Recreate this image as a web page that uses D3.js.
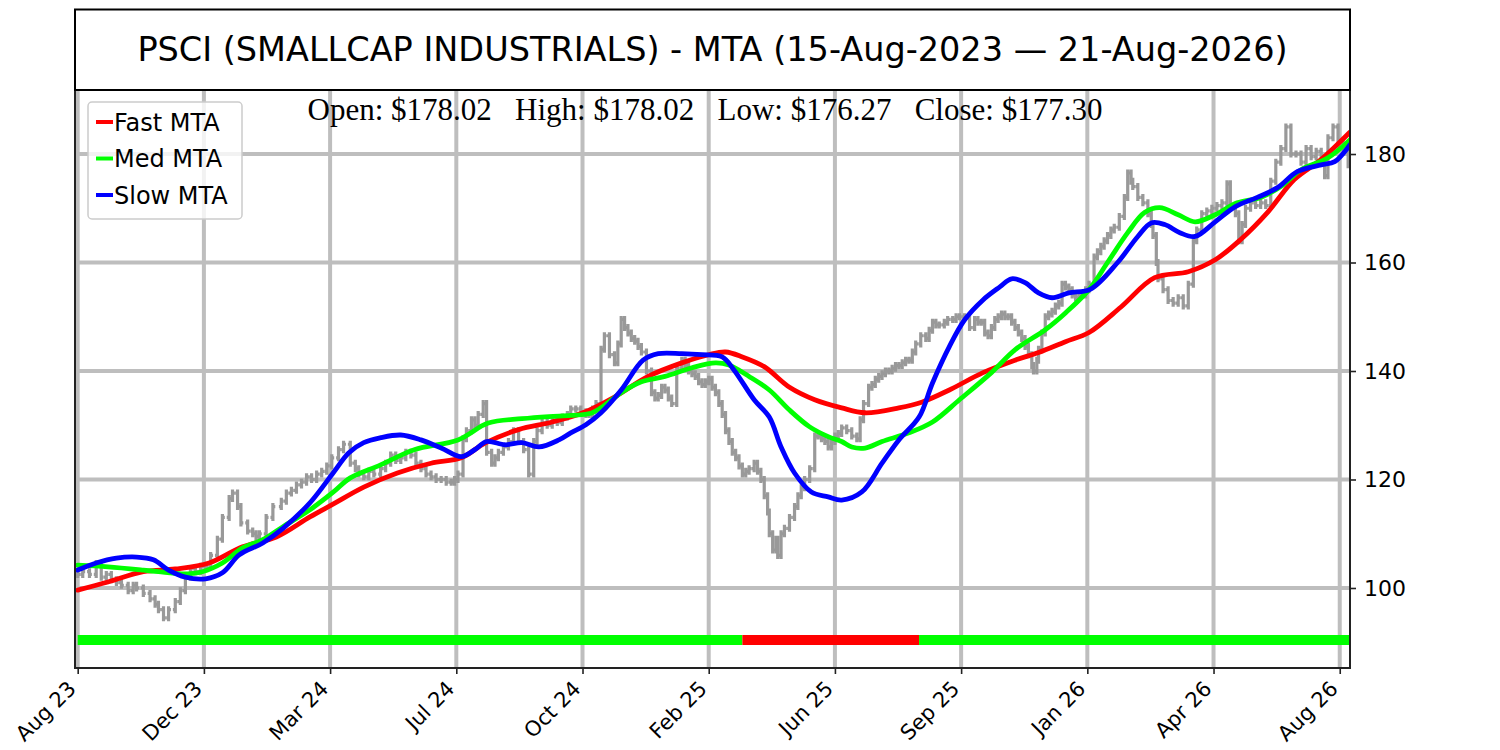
<!DOCTYPE html>
<html>
<head>
<meta charset="utf-8">
<script src="https://cdn.jsdelivr.net/npm/d3@7"></script>
<style>
  body { margin: 0; background: #fff; }
  svg { display: block; }
</style>
</head>
<body>
<div id="chart"></div>
<script>
const WIDTH = 1500;
const HEIGHT = 750;
const PLOT = { left: 75, right: 1350, top: 90, bottom: 668 };

const TITLE = "PSCI (SMALLCAP INDUSTRIALS) - MTA (15-Aug-2023 \u2014 21-Aug-2026)";
const OHLC_TEXT = "Open: $178.02   High: $178.02   Low: $176.27   Close: $177.30";

// x axis runs on trading-day index, a label every 75 bars
const tickIdx = [0, 75, 150, 225, 300, 375, 450, 525, 600, 675, 750];
const tickLabels = ["Aug 23", "Dec 23", "Mar 24", "Jul 24", "Oct 24", "Feb 25",
                    "Jun 25", "Sep 25", "Jan 26", "Apr 26", "Aug 26"];
const yTicks = [100, 120, 140, 160, 180];

// price bars
const priceIdx = [
  0, 3, 7, 11, 14, 17, 20, 23, 26, 30,
  33, 35, 39, 43, 46, 48, 51, 54, 58, 61,
  64, 67, 70, 73, 76, 79, 83, 86, 90, 92,
  95, 97, 101, 104, 106, 108, 112, 116, 121, 124,
  127, 130, 133, 136, 139, 142, 145, 148, 151, 155,
  158, 162, 165, 167, 170, 173, 176, 180, 183, 186,
  189, 192, 195, 198, 201, 204, 207, 210, 213, 216,
  219, 222, 224, 226, 229, 231, 234, 236, 238, 241,
  243, 246, 248, 250, 253, 256, 259, 262, 265, 268,
  271, 273, 276, 279, 282, 285, 288, 291, 293, 296,
  299, 302, 304, 306, 308, 311, 313, 316, 319, 321,
  323, 325, 327, 329, 331, 333, 335, 338, 341, 343,
  345, 347, 349, 351, 353, 356, 359, 361, 363, 365,
  367, 369, 371, 373, 375, 377, 379, 381, 383, 385,
  387, 389, 391, 393, 395, 397, 399, 402, 404, 406,
  408, 410, 411, 413, 415, 416, 418, 420, 423, 426,
  428, 430, 432, 435, 438, 440, 442, 444, 446, 448,
  450, 452, 454, 457, 460, 463, 465, 467, 470, 472,
  474, 476, 478, 480, 482, 484, 486, 488, 490, 492,
  494, 496, 498, 501, 504, 506, 508, 510, 512, 515,
  517, 520, 522, 524, 527, 530, 533, 535, 537, 539,
  541, 543, 545, 547, 549, 551, 553, 555, 557, 559,
  561, 563, 565, 567, 568, 570, 571, 573, 575, 577,
  579, 581, 583, 585, 587, 589, 591, 593, 595, 597,
  599, 601, 604, 606, 608, 610, 612, 614, 616, 619,
  622, 624, 626, 627, 630, 633, 636, 638, 639, 641,
  642, 645, 648, 651, 654, 657, 660, 663, 665, 668,
  671, 674, 677, 680, 683, 685, 688, 690, 692, 694,
  697, 700, 703, 706, 709, 712, 715, 718, 721, 724,
  727, 730, 733, 736, 739, 741, 743, 746, 749, 752,
  755
];
const priceClose = [
  102.5, 103, 102.5, 104.5, 102, 102.5, 101.5, 101, 100.5, 99.5,
  100.5, 100, 99, 98, 97, 96, 94.5, 96, 97.5, 99.5,
  102, 103.5, 103, 104, 104, 106, 109, 113, 116.5, 117.5,
  115, 112, 110.5, 110, 109.5, 110, 113, 115, 116, 117.5,
  118, 119, 119.5, 120.5, 120, 121, 121.5, 122.5, 124, 125.5,
  126.5, 123, 122, 121, 120.5, 121.5, 121, 122, 123, 124.5,
  123.5, 124, 125, 124.5, 123, 122, 121, 120.5, 120, 120,
  119.5, 119.5, 120, 121, 127.5, 129, 131, 130, 132, 134,
  125, 123, 124, 125, 126, 127, 129, 127, 125.5, 121,
  127, 129, 130.5, 130, 131, 130.5, 131.5, 132, 133, 133,
  132.5, 132, 132, 133, 134, 144, 146.5, 143, 141.5, 145,
  149.5, 148, 147, 146, 145.5, 144.5, 143.5, 140, 136, 135,
  135.5, 137, 136.5, 135, 134, 140.5, 142, 141, 140, 139.5,
  139, 138, 137.5, 138, 138.5, 137, 136, 134, 132, 129,
  127, 125, 124, 122.5, 121, 121.5, 122, 123, 121.5, 120,
  117, 114, 110, 107, 109, 106, 110, 111, 113, 115,
  117, 118.5, 120, 122, 128, 128, 127.5, 127, 126, 127,
  128, 128.5, 129.5, 129, 128, 127.5, 131, 134, 137, 137.5,
  138.5, 139, 139.5, 140, 140, 140.5, 141, 141, 141.5, 142,
  142, 143.5, 145, 146.5, 146, 147.5, 149, 148.5, 148.5, 149,
  149.5, 149.5, 150, 150, 150, 148, 149.5, 149, 149, 147,
  146.5, 148, 149.5, 150, 150.5, 150, 150, 149, 148, 147,
  146, 144.5, 143, 141, 140, 142, 144, 147, 150, 150.5,
  151, 152, 152.5, 156, 155.5, 155, 154, 153.5, 154, 154,
  155, 156, 161, 162, 163, 164, 165, 166, 166.5, 168.5,
  172, 176.5, 175, 174, 172, 171, 169, 167, 165, 160,
  157, 155, 153, 152.5, 153.5, 152, 156, 164, 166, 169,
  169.5, 170, 170.5, 171, 174.5, 170, 169, 164, 167, 170,
  171, 170.5, 171, 170.5, 175, 178.5, 181, 185, 180, 180,
  178.5, 181, 179.5, 180.5, 179, 176, 183, 185, 182.5, 181,
  178
];

// moving trend averages
const fastIdx = [0, 18, 39, 58, 78, 98, 118, 138, 152, 170, 190, 210, 228, 242, 262,
  282, 301, 319, 339, 359, 375, 385, 395, 408, 423, 438, 454, 468, 488, 502,
  518, 538, 557, 571, 587, 601, 620, 640, 660, 676, 691, 707, 723, 739, 756];
const fastVal = [99.6, 101.1, 103, 103.5, 104.6, 107.6, 109.4, 113.1, 115.5, 118.6, 121.2, 123, 124, 126.7, 129.2,
  130.6, 132.4, 135.2, 139, 141.5, 143, 143.5, 142.6, 140.8, 137, 134.7, 133.2, 132.3, 133.2, 134.3,
  136.5, 139.7, 142, 143.4, 145.4, 147.1, 151.8, 157.2, 158.3, 160.5, 164.2, 169.2, 175.3, 179, 184];

const medIdx = [0, 18, 39, 48, 62, 74, 86, 98, 110, 122, 138, 152, 162, 180, 200,
  226, 244, 264, 280, 293, 305, 311, 323, 335, 349, 365, 379, 387, 399, 411,
  423, 435, 446, 454, 460, 468, 478, 494, 508, 524, 543, 557, 575, 587, 601,
  612, 624, 634, 643, 654, 664, 676, 689, 703, 715, 727, 743, 756];
const medVal = [104.2, 103.9, 103.3, 103, 102.6, 103, 104.6, 107.4, 108.9, 111.3, 114.4, 117.7, 120.3, 122.7, 125.5,
  127.3, 130.4, 131.2, 131.6, 131.8, 132.2, 133.2, 136, 138, 139, 140.6, 141.5, 141.1, 139, 136.5,
  132.8, 129.7, 127.9, 127, 126, 125.8, 127, 128.6, 130.6, 134.7, 139.7, 143.9, 147.6, 150.7, 155,
  160, 165.5, 169.2, 170.1, 168.8, 167.5, 168.8, 171, 172, 174, 177.1, 179.3, 182.6];

const slowIdx = [0, 11, 23, 35, 45, 54, 64, 76, 86, 96, 110, 122, 138, 152, 161,
  170, 180, 192, 204, 216, 228, 236, 243, 254, 264, 274, 286, 293, 302, 311,
  323, 336, 345, 359, 371, 383, 390, 402, 411, 418, 426, 436, 446, 454, 466,
  478, 488, 500, 508, 518, 527, 538, 548, 555, 563, 571, 579, 589, 602, 618,
  630, 638, 646, 655, 664, 676, 688, 701, 713, 725, 739, 747, 756];
const slowVal = [103.3, 104.6, 105.5, 105.7, 105.2, 103.3, 102, 101.7, 102.8, 106.1, 108.3, 111, 115.7, 121.3, 124.9,
  126.8, 127.7, 128.2, 127.3, 125.8, 124.2, 125.5, 127, 126.4, 126.8, 126, 127.3, 128.6, 130.1, 132.3,
  136.5, 142, 143.2, 143.2, 143, 142.6, 140.2, 134.7, 131.5, 126, 121.2, 117.7, 116.8, 116.2, 117.7,
  123, 127.3, 131.5, 137.8, 144.5, 149.4, 153.1, 155.5, 157, 156.3, 154.4, 153.5, 154.4, 155.1, 160,
  164.8, 167.3, 167, 165.5, 164.8, 167.5, 170.3, 172, 173.8, 176.8, 178, 178.6, 181.7];

// trend signal strip along the bottom
const SIGNAL_LEVEL = 90.4;
const signalStart = [0, 395, 500];
const signalEnd = [395, 500, 756];
const signalState = ["up", "down", "up"];

const series = [
  { name: "Fast MTA", idx: fastIdx, val: fastVal, color: "#ff0000" },
  { name: "Med MTA", idx: medIdx, val: medVal, color: "#00ff00" },
  { name: "Slow MTA", idx: slowIdx, val: slowVal, color: "#0000ff" }
];

const GRID = "#bebebe";
const PRICE = "#999999";
const SANS = "'DejaVu Sans', sans-serif";

const svg = d3.select("#chart").append("svg")
  .attr("width", WIDTH)
  .attr("height", HEIGHT)
  .attr("viewBox", `0 0 ${WIDTH} ${HEIGHT}`);

const x = d3.scaleLinear().domain([-1.6, 756.1]).range([PLOT.left, PLOT.right]);
const y = d3.scaleLinear().domain([85.25, 191.8]).range([PLOT.bottom, PLOT.top]);

svg.append("clipPath").attr("id", "plot-clip")
  .append("rect")
  .attr("x", PLOT.left).attr("y", PLOT.top)
  .attr("width", PLOT.right - PLOT.left).attr("height", PLOT.bottom - PLOT.top);

// grid
const grid = svg.append("g").attr("clip-path", "url(#plot-clip)");
grid.selectAll("line.vg").data(tickIdx).join("line")
  .attr("class", "vg")
  .attr("x1", d => x(d)).attr("x2", d => x(d))
  .attr("y1", PLOT.top).attr("y2", PLOT.bottom)
  .attr("stroke", GRID).attr("stroke-width", 4);
grid.selectAll("line.hg").data(yTicks).join("line")
  .attr("class", "hg")
  .attr("x1", PLOT.left).attr("x2", PLOT.right)
  .attr("y1", d => y(d)).attr("y2", d => y(d))
  .attr("stroke", GRID).attr("stroke-width", 4);

const plot = svg.append("g").attr("clip-path", "url(#plot-clip)");

// signal strip
plot.selectAll("line.signal").data(signalStart).join("line")
  .attr("class", "signal")
  .attr("x1", (d, i) => x(signalStart[i]))
  .attr("x2", (d, i) => x(signalEnd[i]))
  .attr("y1", y(SIGNAL_LEVEL)).attr("y2", y(SIGNAL_LEVEL))
  .attr("stroke", (d, i) => signalState[i] === "up" ? "#00ff00" : "#ff0000")
  .attr("stroke-width", 10);

// price bars: body spans previous close to close, ticks for open / close
const bars = priceIdx.map((d, i) => ({
  i: d,
  open: i === 0 ? priceClose[0] : priceClose[i - 1],
  close: priceClose[i]
}));
const barPath = bars.map(b => {
  const cx = x(b.i);
  const yo = y(b.open), yc = y(b.close);
  const top = Math.min(yo, yc) - 3.5, bot = Math.max(yo, yc) + 3.5;
  return `M${cx},${top}V${bot}M${cx - 2.4},${yo}H${cx}M${cx},${yc}H${cx + 2.4}`;
}).join("");
plot.append("path")
  .attr("d", barPath)
  .attr("fill", "none")
  .attr("stroke", PRICE)
  .attr("stroke-width", 3.2);

// MTA lines
const line = d3.line().curve(d3.curveCatmullRom.alpha(0.5));
series.forEach(s => {
  plot.append("path")
    .datum(s.idx.map((d, i) => [x(d), y(s.val[i])]))
    .attr("d", line)
    .attr("fill", "none")
    .attr("stroke", s.color)
    .attr("stroke-width", 4.8)
    .attr("stroke-linecap", "round");
});

// frame
svg.append("rect")
  .attr("x", PLOT.left).attr("y", PLOT.top)
  .attr("width", PLOT.right - PLOT.left).attr("height", PLOT.bottom - PLOT.top)
  .attr("fill", "none").attr("stroke", "#222").attr("stroke-width", 2);

// axes
const yAxis = svg.append("g")
  .attr("transform", `translate(${PLOT.right},0)`)
  .call(d3.axisRight(y).tickValues(yTicks).tickSize(6).tickPadding(8));
yAxis.select(".domain").remove();
yAxis.selectAll("line").attr("stroke", "#222").attr("stroke-width", 1.6);
yAxis.selectAll("text")
  .attr("font-family", SANS).attr("font-size", 22).attr("fill", "#000");

const xAxis = svg.append("g")
  .attr("transform", `translate(0,${PLOT.bottom})`)
  .call(d3.axisBottom(x).tickValues(tickIdx).tickSize(6).tickFormat((d, i) => tickLabels[i]));
xAxis.select(".domain").remove();
xAxis.selectAll("line").attr("stroke", "#222").attr("stroke-width", 1.6);
xAxis.selectAll("text")
  .attr("font-family", SANS).attr("font-size", 21).attr("fill", "#000")
  .attr("text-anchor", "end")
  .attr("dy", null)
  .attr("y", 0)
  .attr("transform", "translate(-1,22) rotate(-45)");

// title box
svg.append("rect")
  .attr("x", PLOT.left).attr("y", 9.5)
  .attr("width", PLOT.right - PLOT.left).attr("height", PLOT.top - 9.5)
  .attr("fill", "#fff").attr("stroke", "#000").attr("stroke-width", 2);
svg.append("text")
  .attr("x", (PLOT.left + PLOT.right) / 2).attr("y", 61)
  .attr("text-anchor", "middle")
  .attr("font-family", SANS).attr("font-size", 33.5)
  .text(TITLE);

// price readout
svg.append("text")
  .attr("x", 705).attr("y", 120)
  .attr("text-anchor", "middle")
  .attr("font-family", "'Liberation Serif', 'Times New Roman', serif")
  .attr("font-size", 31)
  .style("white-space", "pre")
  .text(OHLC_TEXT);

// legend
const legend = svg.append("g");
legend.append("rect")
  .attr("x", 88).attr("y", 102).attr("width", 154).attr("height", 117)
  .attr("rx", 4)
  .attr("fill", "#fff").attr("fill-opacity", 0.8)
  .attr("stroke", "#cccccc").attr("stroke-width", 1.5);
series.forEach((s, i) => {
  const cy = 122 + i * 36.5;
  legend.append("line")
    .attr("x1", 96).attr("x2", 113).attr("y1", cy).attr("y2", cy)
    .attr("stroke", s.color).attr("stroke-width", 4);
  legend.append("text")
    .attr("x", 114).attr("y", cy + 8.5)
    .attr("font-family", SANS).attr("font-size", 24)
    .text(s.name);
});
</script>
</body>
</html>
